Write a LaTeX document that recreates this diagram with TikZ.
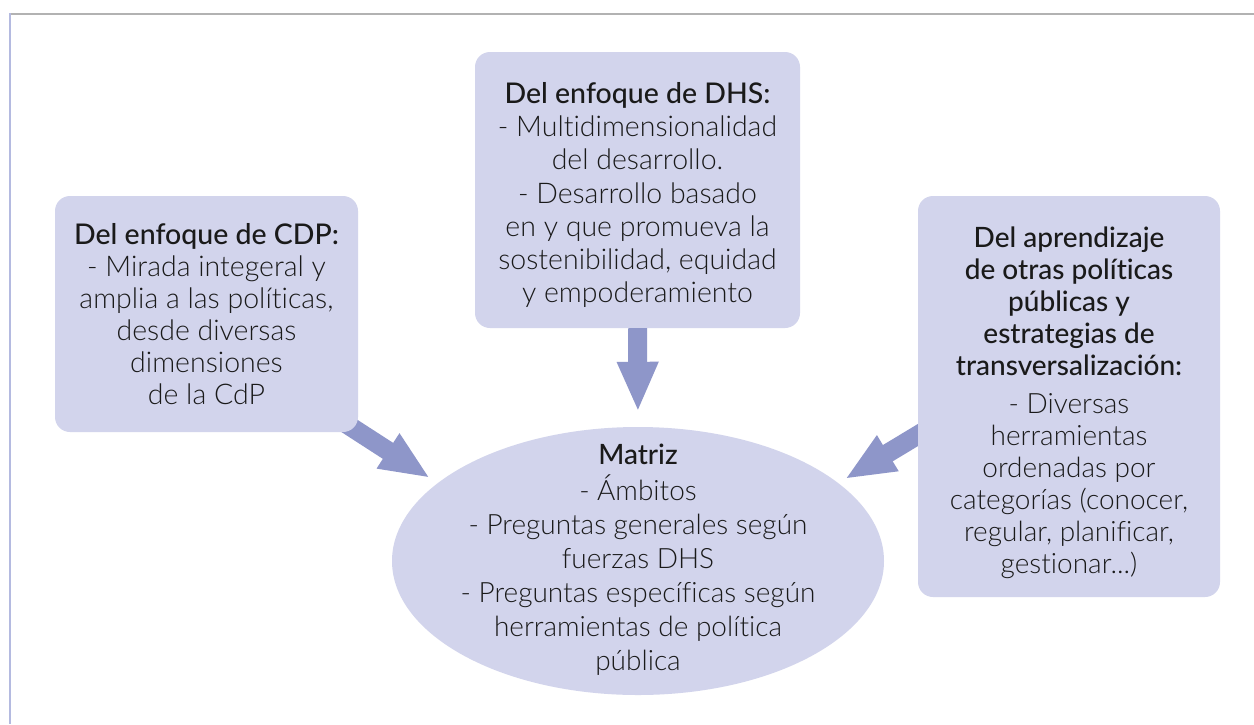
\documentclass[tikz,border=0pt]{standalone}
\usepackage{fontspec}
\setmainfont{Lato Light}[Ligatures=CommonOff]
\newfontfamily\headf{Lato Medium}[Ligatures=CommonOff]
\usetikzlibrary{arrows.meta,calc,backgrounds,shapes.geometric}
\definecolor{boxfill}{RGB}{210,212,236}
\definecolor{arrowc}{RGB}{142,150,201}
\definecolor{framegray}{RGB}{178,178,178}
\definecolor{frameblue}{RGB}{180,186,224}
\definecolor{txt}{RGB}{26,26,26}
\newcommand{\fs}[2]{\fontsize{#1}{#2}\selectfont}
\tikzset{
  box/.style={fill=boxfill, draw=none, rounded corners=15pt, inner sep=0pt},
  ellbox/.style={ellipse, fill=boxfill, draw=none, inner sep=0pt},
  txtnode/.style={align=center, inner sep=0pt, text=txt},
  bigarrow/.style={draw=arrowc, line width=19pt, -{Triangle[length=50pt,width=38pt]}},
}
\begin{document}
\begin{tikzpicture}[x=1pt,y=-1pt]
\useasboundingbox (0,0) rectangle (1254,724);
\draw[framegray, line width=2pt] (9,14) -- (1254,14);
\draw[frameblue, line width=2pt] (10,13) -- (10,724);

\node[box, minimum width=303pt, minimum height=236pt] (cdp) at (206.5,314) {};
\node[txtnode, font=\fs{28.5}{32}] (cdptxt) at (206.5,314.5)
  {{\headf Del enfoque de CDP:}\\- Mirada integeral y\\amplia a las políticas,\\desde diversas\\dimensiones\\de la CdP};

\node[box, minimum width=325pt, minimum height=276pt] (dhs) at (637.5,190) {};
\node[txtnode, font=\fs{28.5}{33.2}] (dhstxt) at (637.5,195)
  {{\headf Del enfoque de DHS:}\\- Multidimensionalidad\\del desarrollo.\\- Desarrollo basado\\en y que promueva la\\sostenibilidad, equidad\\y empoderamiento};

\node[box, minimum width=302pt, minimum height=401pt] (trans) at (1069,396.5) {};
\node[txtnode, font=\fs{28}{32}] (transtxt) at (1069,403)
  {{\headf Del aprendizaje}\\{\headf de otras políticas}\\{\headf públicas y}\\{\headf estrategias de}\\{\headf transversalización:}\\[6pt]- Diversas\\herramientas\\ordenadas por\\categorías (conocer,\\regular, planificar,\\gestionar...)};

\node[ellbox, minimum width=492pt, minimum height=268pt] (mat) at (638,561) {};
\node[txtnode, font=\fs{28}{34}] (mattxt) at (638,560)
  {{\headf Matriz}\\[2pt]- Ámbitos\\- Preguntas generales según\\fuerzas DHS\\- Preguntas específicas según\\herramientas de política\\pública};

\begin{scope}[on background layer]
\fill[white] (0,0) rectangle (1254,724);
\draw[bigarrow] ($(cdp.south east)+(-30,-20)$) -- ($(mat.center)+(-208,-83)$);
\draw[bigarrow] ($(trans.west)+(30,20.5)$) -- ($(mat.center)+(207,-82)$);
\end{scope}
\draw[bigarrow, shorten >=15pt] (dhs.south) -- (mat.north);
\end{tikzpicture}
\end{document}
